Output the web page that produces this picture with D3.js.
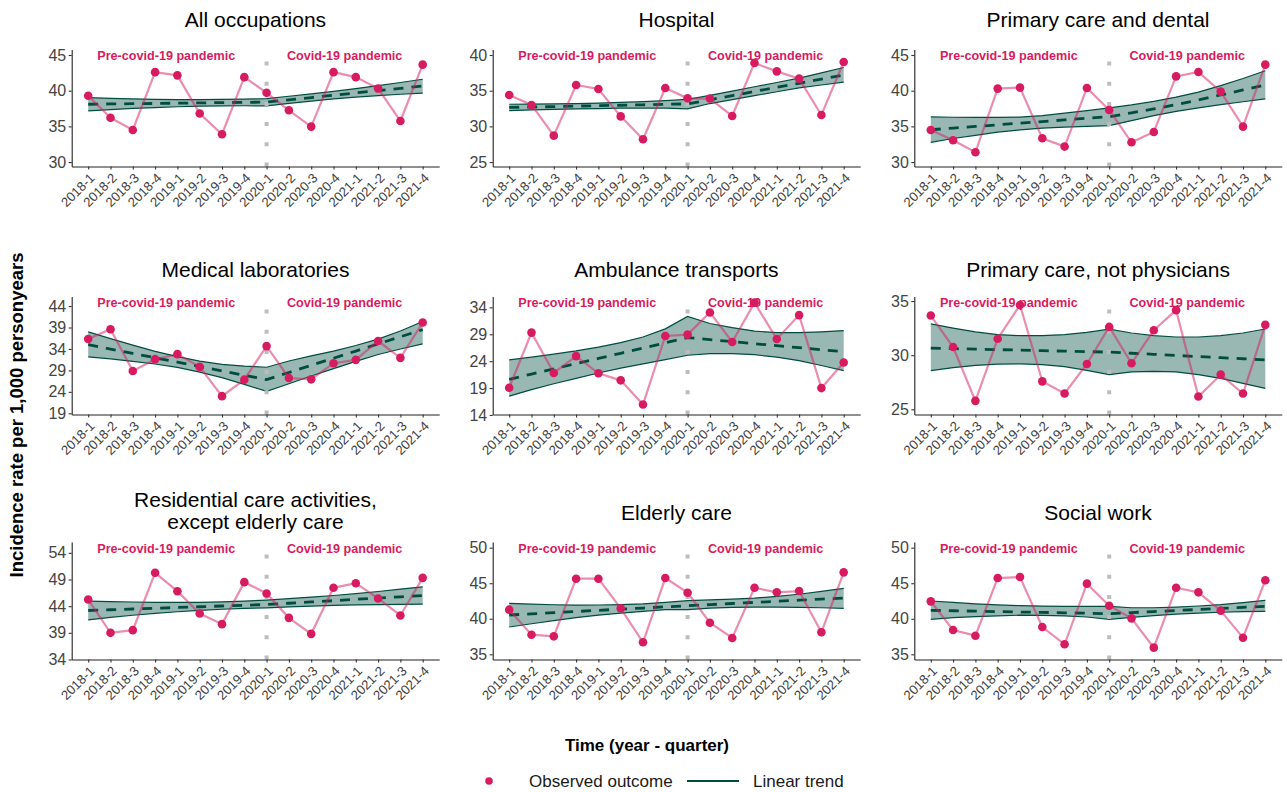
<!DOCTYPE html>
<html>
<head>
<meta charset="utf-8">
<script src="https://cdn.jsdelivr.net/npm/d3@7"></script>
<style>
  body { margin: 0; background: #ffffff; }
  svg { display: block; font-family: "Liberation Sans", Arial, Helvetica, sans-serif; }
</style>
</head>
<body>
<svg id="chart" width="1287" height="792"></svg>
<script>
// Quarters on the x axis
const quarters = ["2018-1","2018-2","2018-3","2018-4","2019-1","2019-2","2019-3","2019-4",
                  "2020-1","2020-2","2020-3","2020-4","2021-1","2021-2","2021-3","2021-4"];

// Occupation groups, one panel each (multi-line titles as arrays)
const panelTitles = [
  ["All occupations"], ["Hospital"], ["Primary care and dental"],
  ["Medical laboratories"], ["Ambulance transports"], ["Primary care, not physicians"],
  ["Residential care activities,", "except elderly care"], ["Elderly care"], ["Social work"]
];

// y-axis limits and tick labels per panel
const yLimits = [
  [29.38, 45.77], [24.38, 40.77], [29.38, 45.77],
  [18.72, 46.23], [14.09, 36.02], [24.52, 35.42],
  [34.0, 56.03], [34.27, 50.8], [34.27, 50.8]
];
const yTickValues = [
  [30, 35, 40, 45], [25, 30, 35, 40], [30, 35, 40, 45],
  [19, 24, 29, 34, 39, 44], [14, 19, 24, 29, 34], [25, 30, 35],
  [34, 39, 44, 49, 54], [35, 40, 45, 50], [35, 40, 45, 50]
];

// Observed incidence rate per 1,000 person-years
const observed = [
  [39.3, 36.2, 34.5, 42.6, 42.15, 36.8, 33.9, 41.9, 39.7, 37.25, 34.97, 42.6, 41.9, 40.3, 35.76, 43.65],
  [34.4, 33.0, 28.7, 35.8, 35.24, 31.4, 28.2, 35.38, 33.93, 33.9, 31.46, 38.88, 37.71, 36.69, 31.6, 39.02],
  [34.5, 33.05, 31.37, 40.29, 40.43, 33.33, 32.17, 40.38, 37.3, 32.77, 34.22, 42.01, 42.62, 39.87, 34.97, 43.65],
  [36.32, 38.6, 28.87, 31.62, 32.8, 29.82, 23.0, 26.84, 34.67, 27.23, 26.92, 30.68, 31.46, 35.85, 31.93, 40.16],
  [19.06, 29.31, 21.81, 24.94, 21.75, 20.44, 15.94, 28.69, 28.94, 33.06, 27.56, 34.88, 28.13, 32.56, 19.0, 23.75],
  [33.66, 30.75, 25.78, 31.52, 34.63, 27.58, 26.46, 29.19, 32.61, 29.25, 32.3, 34.16, 26.18, 28.2, 26.46, 32.8],
  [45.25, 39.0, 39.5, 50.25, 46.81, 42.63, 40.63, 48.5, 46.38, 41.81, 38.81, 47.44, 48.31, 45.44, 42.25, 49.31],
  [41.28, 37.76, 37.53, 45.64, 45.64, 41.47, 36.69, 45.73, 43.67, 39.45, 37.3, 44.37, 43.72, 43.9, 38.1, 46.53],
  [42.45, 38.42, 37.62, 45.73, 45.87, 38.84, 36.41, 44.94, 41.84, 40.06, 35.94, 44.37, 43.72, 41.14, 37.34, 45.41]
];

// Segmented linear trend (break at 2020-1): fitted value and 95% band
const trendFit = [
  [38.10, 38.14, 38.18, 38.21, 38.25, 38.29, 38.33, 38.36, 38.40, 38.72, 39.04, 39.36, 39.69, 40.01, 40.33, 40.65],
  [32.65, 32.71, 32.77, 32.84, 32.90, 32.96, 33.02, 33.09, 33.15, 33.73, 34.31, 34.89, 35.47, 36.04, 36.62, 37.20],
  [34.53, 34.76, 34.99, 35.22, 35.45, 35.68, 35.91, 36.14, 36.35, 36.90, 37.45, 38.05, 38.70, 39.40, 40.10, 40.80],
  [35.00, 33.98, 32.96, 31.94, 30.93, 29.91, 28.89, 27.87, 26.85, 28.51, 30.18, 31.84, 33.51, 35.17, 36.84, 38.50],
  [20.63, 21.60, 22.57, 23.54, 24.51, 25.47, 26.44, 27.41, 28.38, 28.00, 27.63, 27.25, 26.88, 26.50, 26.13, 25.75],
  [30.65, 30.60, 30.56, 30.51, 30.47, 30.42, 30.37, 30.33, 30.28, 30.18, 30.08, 29.98, 29.87, 29.77, 29.67, 29.57],
  [43.19, 43.33, 43.47, 43.61, 43.75, 43.89, 44.03, 44.17, 44.31, 44.55, 44.79, 45.03, 45.28, 45.52, 45.76, 46.00],
  [40.53, 40.69, 40.86, 41.02, 41.19, 41.35, 41.51, 41.68, 41.84, 41.99, 42.15, 42.30, 42.46, 42.61, 42.77, 42.92],
  [41.19, 41.13, 41.07, 41.01, 40.95, 40.90, 40.84, 40.78, 40.72, 40.87, 41.01, 41.16, 41.31, 41.46, 41.60, 41.75]
];
const trendUpper = [
  [39.03, 38.93, 38.85, 38.79, 38.75, 38.75, 38.78, 38.83, 38.88, 39.22, 39.55, 39.90, 40.30, 40.72, 41.15, 41.60],
  [33.10, 33.12, 33.15, 33.20, 33.26, 33.35, 33.46, 33.60, 33.78, 34.35, 34.95, 35.55, 36.15, 36.75, 37.50, 38.25],
  [36.32, 36.28, 36.25, 36.25, 36.30, 36.50, 36.85, 37.20, 37.60, 38.00, 38.50, 39.10, 39.80, 40.70, 41.70, 42.80],
  [37.97, 36.40, 34.90, 33.45, 32.20, 31.15, 30.40, 30.00, 29.74, 31.20, 32.40, 33.50, 34.80, 36.30, 38.20, 40.40],
  [24.25, 24.75, 25.30, 25.90, 26.60, 27.45, 28.50, 30.00, 32.30, 31.00, 30.25, 29.60, 29.30, 29.30, 29.45, 29.69],
  [32.89, 32.50, 32.15, 31.90, 31.80, 31.80, 31.90, 32.10, 32.40, 32.05, 31.80, 31.68, 31.68, 31.80, 32.05, 32.42],
  [44.94, 44.85, 44.78, 44.72, 44.70, 44.72, 44.80, 44.95, 45.13, 45.40, 45.70, 46.00, 46.35, 46.75, 47.20, 47.63],
  [42.17, 42.05, 41.97, 41.93, 41.94, 41.99, 42.10, 42.30, 42.55, 42.65, 42.75, 42.90, 43.15, 43.45, 43.85, 44.28],
  [42.50, 42.30, 42.10, 41.95, 41.85, 41.78, 41.75, 41.74, 41.75, 41.55, 41.55, 41.65, 41.80, 42.00, 42.28, 42.59]
];
const trendLower = [
  [37.17, 37.35, 37.51, 37.63, 37.75, 37.83, 37.88, 37.89, 37.88, 38.22, 38.55, 38.85, 39.10, 39.32, 39.50, 39.65],
  [32.20, 32.30, 32.38, 32.45, 32.50, 32.55, 32.57, 32.57, 32.45, 33.20, 33.75, 34.30, 34.85, 35.40, 35.80, 36.20],
  [32.77, 33.30, 33.75, 34.20, 34.50, 34.75, 34.90, 35.00, 35.10, 35.80, 36.50, 37.10, 37.60, 38.05, 38.45, 38.84],
  [32.17, 31.70, 31.10, 30.50, 29.70, 28.60, 27.30, 25.75, 24.10, 25.90, 27.70, 29.40, 31.10, 32.70, 34.00, 35.20],
  [17.50, 18.70, 19.80, 20.80, 21.80, 22.70, 23.50, 24.30, 25.10, 25.40, 25.40, 25.20, 24.75, 24.10, 23.20, 22.25],
  [28.57, 28.85, 29.05, 29.18, 29.20, 29.12, 28.95, 28.60, 28.20, 28.45, 28.50, 28.45, 28.20, 27.85, 27.40, 26.93],
  [41.44, 41.90, 42.30, 42.65, 42.95, 43.20, 43.42, 43.60, 43.69, 43.85, 44.00, 44.15, 44.25, 44.30, 44.35, 44.38],
  [38.84, 39.30, 39.75, 40.15, 40.50, 40.80, 41.05, 41.28, 41.30, 41.50, 41.60, 41.65, 41.65, 41.60, 41.55, 41.47],
  [39.92, 40.15, 40.30, 40.42, 40.50, 40.48, 40.40, 40.25, 39.92, 40.20, 40.45, 40.65, 40.80, 40.92, 41.00, 41.05]
];

const breakQuarter = "2020-1";
const periodLabels = ["Pre-covid-19 pandemic", "Covid-19 pandemic"];

// Colours
const pink = "#D81B60";
const green = "#004D40";

const svg = d3.select("#chart");

// Panel grid geometry
const cols = [{ left: 71.7, right: 439.2 }, { left: 492.7, right: 860.2 }, { left: 914.3, right: 1281.8 }];
const rows = [
  { top: 49.5, bottom: 166.5, titleBase: 27 },
  { top: 296.5, bottom: 414.5, titleBase: 277 },
  { top: 542, bottom: 659.5, titleBase: 520 }
];

panelTitles.forEach((title, p) => {
  const col = cols[p % 3];
  const row = rows[Math.floor(p / 3)];

  const x = d3.scalePoint().domain(quarters).range([col.left, col.right]).padding(0.74);
  const y = d3.scaleLinear().domain(yLimits[p]).range([row.bottom, row.top]);

  const g = svg.append("g");

  // Facet title
  const cx = (col.left + col.right) / 2;
  const t = g.append("text")
    .attr("x", cx)
    .attr("text-anchor", "middle")
    .attr("font-size", 21)
    .attr("fill", "#000");
  if (title.length === 1) {
    t.attr("y", row.titleBase).text(title[0]);
  } else {
    title.forEach((line, i) => {
      t.append("tspan").attr("x", cx).attr("y", row.titleBase - 13 + i * 22).text(line);
    });
  }

  // Confidence band
  const idx = d3.range(quarters.length);
  g.append("path")
    .datum(idx)
    .attr("fill", green)
    .attr("fill-opacity", 0.4)
    .attr("d", d3.area()
      .x(i => x(quarters[i]))
      .y0(i => y(trendLower[p][i]))
      .y1(i => y(trendUpper[p][i])));

  [trendUpper[p], trendLower[p]].forEach(arr => {
    g.append("path")
      .datum(idx)
      .attr("fill", "none")
      .attr("stroke", green)
      .attr("stroke-width", 1.2)
      .attr("d", d3.line().x(i => x(quarters[i])).y(i => y(arr[i])));
  });

  // Pandemic onset marker
  g.append("line")
    .attr("x1", x(breakQuarter)).attr("x2", x(breakQuarter))
    .attr("y1", row.bottom).attr("y2", row.top + 11)
    .attr("stroke", "#bdbdbd")
    .attr("stroke-width", 4)
    .attr("stroke-dasharray", "4 16.2");

  // Fitted trend
  g.append("path")
    .datum(idx)
    .attr("fill", "none")
    .attr("stroke", green)
    .attr("stroke-width", 2.8)
    .attr("stroke-dasharray", "10 8")
    .attr("d", d3.line().x(i => x(quarters[i])).y(i => y(trendFit[p][i])));

  // Observed series
  g.append("path")
    .datum(idx)
    .attr("fill", "none")
    .attr("stroke", pink)
    .attr("stroke-opacity", 0.5)
    .attr("stroke-width", 2.2)
    .attr("d", d3.line().x(i => x(quarters[i])).y(i => y(observed[p][i])));

  g.selectAll("circle.obs")
    .data(idx)
    .join("circle")
    .attr("class", "obs")
    .attr("cx", i => x(quarters[i]))
    .attr("cy", i => y(observed[p][i]))
    .attr("r", 4.3)
    .attr("fill", pink);

  // Period labels, centred between quarters
  const labelX = [
    (x(quarters[3]) + x(quarters[4])) / 2,
    (x(quarters[11]) + x(quarters[12])) / 2
  ];
  periodLabels.forEach((lab, i) => {
    g.append("text")
      .attr("x", labelX[i])
      .attr("y", row.top + 10.5)
      .attr("text-anchor", "middle")
      .attr("font-size", 12.6)
      .attr("font-weight", "bold")
      .attr("fill", pink)
      .text(lab);
  });

  // Axes
  const yAxis = g.append("g")
    .attr("transform", `translate(${col.left},0)`)
    .call(d3.axisLeft(y).tickValues(yTickValues[p]).tickSize(3).tickSizeOuter(0).tickPadding(2.5));
  yAxis.select(".domain").attr("stroke", "#222").attr("stroke-width", 1.1);
  yAxis.selectAll(".tick line").attr("stroke", "#333").attr("stroke-width", 1.1);
  yAxis.selectAll(".tick text")
    .attr("font-size", 16)
    .attr("fill", "#444")
    .attr("font-family", "Liberation Sans, Arial, sans-serif");

  const xAxis = g.append("g")
    .attr("transform", `translate(0,${row.bottom})`)
    .call(d3.axisBottom(x).tickSize(3).tickSizeOuter(0));
  xAxis.select(".domain").attr("stroke", "#222").attr("stroke-width", 1.1);
  xAxis.selectAll(".tick line").attr("stroke", "#333").attr("stroke-width", 1.1);
  xAxis.selectAll(".tick text")
    .attr("y", 0)
    .attr("dy", "0.72em")
    .attr("transform", "translate(0,5.5) rotate(-45)")
    .attr("text-anchor", "end")
    .attr("font-size", 13.2)
    .attr("fill", "#3d3d3d")
    .attr("font-family", "Liberation Sans, Arial, sans-serif");
});

// Axis titles
svg.append("text")
  .attr("x", 647).attr("y", 751)
  .attr("text-anchor", "middle")
  .attr("font-size", 17).attr("font-weight", "bold")
  .attr("fill", "#000")
  .text("Time (year - quarter)");

svg.append("text")
  .attr("transform", "translate(23,415) rotate(-90)")
  .attr("text-anchor", "middle")
  .attr("font-size", 18.5).attr("font-weight", "bold")
  .attr("fill", "#000")
  .text("Incidence rate per 1,000 personyears");

// Legend
const legend = svg.append("g");
legend.append("circle").attr("cx", 489).attr("cy", 781).attr("r", 3.8).attr("fill", pink);
legend.append("text").attr("x", 529).attr("y", 787).attr("font-size", 17).attr("fill", "#1a1a1a").text("Observed outcome");
legend.append("line").attr("x1", 687).attr("x2", 739).attr("y1", 781).attr("y2", 781)
  .attr("stroke", green).attr("stroke-width", 2.2);
legend.append("text").attr("x", 753).attr("y", 787).attr("font-size", 17).attr("fill", "#1a1a1a").text("Linear trend");
</script>
</body>
</html>
